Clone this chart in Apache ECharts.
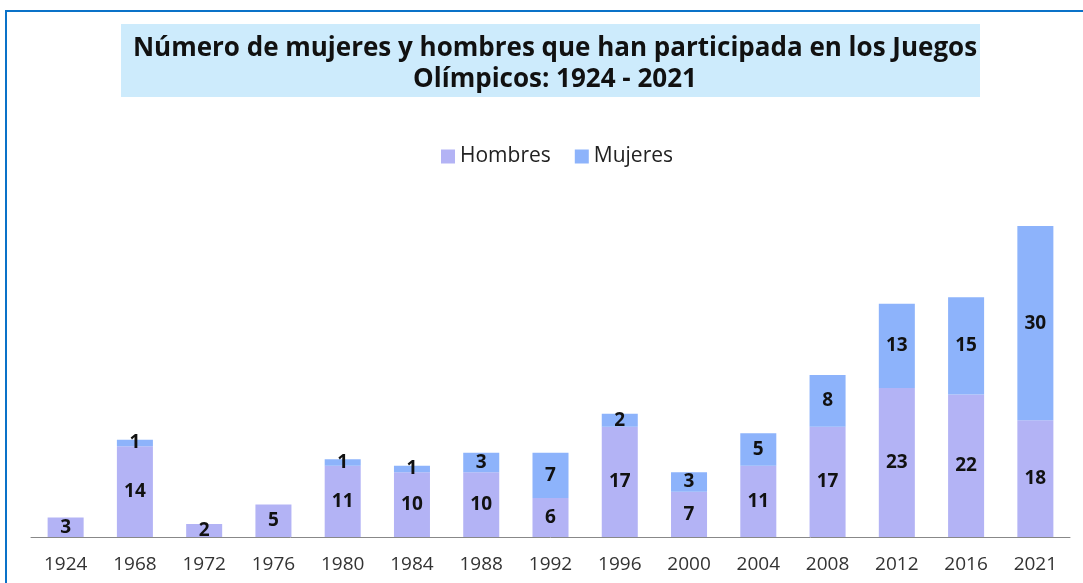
<!DOCTYPE html>
<html>
<head>
<meta charset="utf-8">
<script src="https://cdn.jsdelivr.net/npm/echarts@6/dist/echarts.min.js"></script>
<style>
  html, body { margin: 0; padding: 0; background: #fff; }
  #main { width: 1083px; height: 583px; }
</style>
</head>
<body>
<div id="main"></div>
<script>
// years of the games
const years = ['1924', '1968', '1972', '1976', '1980', '1984', '1988', '1992', '1996', '2000', '2004', '2008', '2012', '2016', '2021'];
const hombres = [3, 14, 2, 5, 11, 10, 10, 6, 17, 7, 11, 17, 23, 22, 18];
const mujeres = [0, 1, 0, 0, 1, 1, 3, 7, 2, 3, 5, 8, 13, 15, 30];

const chart = echarts.init(document.getElementById('main'));

const labelStyle = {
  show: true,
  position: 'inside',
  color: '#111',
  fontWeight: 'bold',
  fontSize: 19,
  fontFamily: 'Open Sans',
  formatter: p => (p.value ? p.value : '')
};

chart.setOption({
  animation: false,
  graphic: [
    {
      type: 'rect',
      shape: { x: 6, y: 11, width: 1200, height: 700 },
      style: { fill: 'none', stroke: '#0a72c8', lineWidth: 2 },
      silent: true
    },
    {
      type: 'rect',
      shape: { x: 121, y: 24, width: 859, height: 73 },
      style: { fill: '#cdebfc' },
      z: -1,
      silent: true
    }
  ],
  title: {
    text: 'Número de mujeres y hombres que han participada en los Juegos\nOlímpicos: 1924 - 2021',
    left: 550,
    textAlign: 'center',
    top: 28,
    textStyle: {
      fontFamily: 'Open Sans',
      fontWeight: 'bold',
      fontSize: 26,
      lineHeight: 31,
      color: '#111'
    }
  },
  legend: {
    top: 141,
    left: 436,
    itemWidth: 14,
    itemHeight: 14,
    itemGap: 24,
    icon: 'rect',
    textStyle: { fontFamily: 'Open Sans', fontSize: 21, color: '#222' },
    data: ['Hombres', 'Mujeres']
  },
  grid: { left: 31, right: 13, top: 200, bottom: 46 },
  xAxis: {
    type: 'category',
    data: years,
    axisLine: { lineStyle: { color: '#888', width: 1 } },
    axisTick: { show: false },
    axisLabel: { color: '#333', fontSize: 19, fontFamily: 'Open Sans', margin: 18 }
  },
  yAxis: {
    type: 'value',
    min: 0,
    max: 52,
    show: false,
    splitLine: { show: false }
  },
  series: [
    {
      name: 'Hombres',
      type: 'bar',
      stack: 'total',
      barWidth: '52%',
      itemStyle: { color: '#b3b3f5' },
      label: labelStyle,
      data: hombres
    },
    {
      name: 'Mujeres',
      type: 'bar',
      stack: 'total',
      barWidth: '52%',
      itemStyle: { color: '#8db3fb' },
      label: labelStyle,
      data: mujeres
    }
  ]
});
</script>
</body>
</html>
